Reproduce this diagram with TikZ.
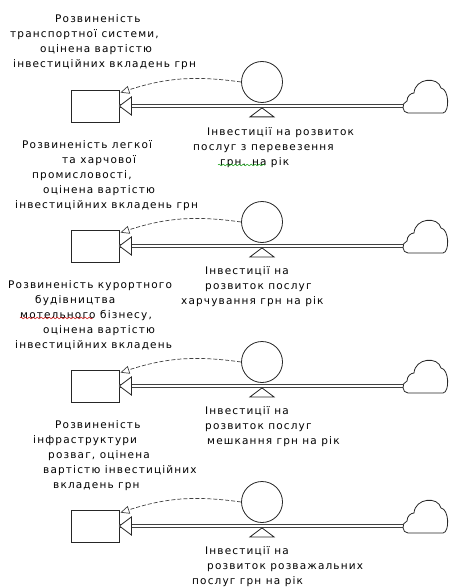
\documentclass[tikz,border=0pt]{standalone}
\usepackage{fontspec}
\setmainfont{DejaVu Sans}[LetterSpace=11]
\usetikzlibrary{arrows.meta,calc,positioning,decorations.pathmorphing}
\def\cloudat(#1){\draw[cloudline, shift={(#1)}] (5,7) .. controls (-1,7) and (-2,-3) .. (4,-5) .. controls (4,-10) and (8,-13) .. (11,-13) .. controls (12,-28) and (35,-30) .. (38,-18) .. controls (46,-17) and (47,6) .. (40,7) -- cycle;}

\tikzset{
  stock/.style={draw=black!85, fill=white, line width=0.8pt, minimum width=48pt, minimum height=32pt, inner sep=0pt},
  rate/.style={circle, draw=black!85, fill=white, line width=0.8pt, minimum size=41pt, inner sep=0pt},
  pipe/.style={draw=black!75, double=white, double distance=2.6pt, line width=0.9pt},
  pipetip/.style={draw=black!85, fill=white, line width=0.8pt},
  valvebase/.style={draw=black!85, fill=white, line width=0.8pt},
  cloudline/.style={draw=black!85, fill=white, line width=0.8pt},
  link/.style={draw=black!75, dash pattern=on 4pt off 2pt, line width=0.7pt, -{Triangle[open, length=9pt, width=8pt]}},
  lbl/.style={anchor=north west, align=left, inner sep=0pt, font=\fontsize{10.5}{15.2}\selectfont},
  squiggle/.style={line width=0.5pt, decorate, decoration={snake, amplitude=0.8pt, segment length=4pt}}
}

\begin{document}
\begin{tikzpicture}[x=1pt, y=-1pt]
			%%%%% START %%%%%
			\useasboundingbox (0,0) rectangle (448,588);

			% transport
			\node[lbl] (t1) at (10,14) {\hspace*{45pt}Розвиненість\\транспортної системи,\\\hspace*{30pt}оцінена вартістю\\\hspace*{3pt}інвестиційних вкладень грн};
			\node[stock] (s1) at (95,106) {};
			\node[rate] (v1) at (262,82) {};
			\coordinate (c1) at (403,106);
			\draw[pipe] (c1) -- (s1.east);
			\draw[pipetip] (s1.east) -- ++(12,-9) -- ++(0,18) -- cycle;
			\draw[valvebase] ($(v1.south)+(0,5)$) -- ++(-12,9) -- ++(24,0) -- cycle;
			\cloudat(c1)
			\draw[link] (v1.west) to[out=172, in=18] ($(s1.north east)+(1,3)$);
			\node[lbl] (r1) at (193,127) {\hspace*{14pt}Інвестиції на розвиток\\послуг з перевезення\\\hspace*{27pt}грн. на рік};
			\draw[squiggle, green!60!black] (218,165) -- (265,165);

			% food industry
			\node[lbl] (t2) at (15,140) {\hspace*{7pt}Розвиненість легкої\\\hspace*{47pt}та харчової\\\hspace*{17pt}промисловості,\\\hspace*{28pt}оцінена вартістю\\інвестиційних вкладень грн};
			\node[stock] (s2) at (95,246) {};
			\node[rate] (v2) at (262,222) {};
			\coordinate (c2) at (403,246);
			\draw[pipe] (c2) -- (s2.east);
			\draw[pipetip] (s2.east) -- ++(12,-9) -- ++(0,18) -- cycle;
			\draw[valvebase] ($(v2.south)+(0,5)$) -- ++(-12,9) -- ++(24,0) -- cycle;
			\cloudat(c2)
			\draw[link] (v2.west) to[out=172, in=18] ($(s2.north east)+(1,3)$);
			\node[lbl] (r2) at (181,266) {\hspace*{24pt}Інвестиції на\\\hspace*{24pt}розвиток послуг\\харчування грн на рік};

			% resort building
			\node[lbl] (t3) at (8,280) {Розвиненість курортного\\\hspace*{27pt}будівництва\\\hspace*{12pt}мотельного бізнесу,\\\hspace*{35pt}оцінена вартістю\\\hspace*{7pt}інвестиційних вкладень};
			\draw[squiggle, red!80!black] (20,318) -- (93,318);
			\node[stock] (s3) at (95,386) {};
			\node[rate] (v3) at (262,362) {};
			\coordinate (c3) at (403,386);
			\draw[pipe] (c3) -- (s3.east);
			\draw[pipetip] (s3.east) -- ++(12,-9) -- ++(0,18) -- cycle;
			\draw[valvebase] ($(v3.south)+(0,5)$) -- ++(-12,9) -- ++(24,0) -- cycle;
			\cloudat(c3)
			\draw[link] (v3.west) to[out=172, in=18] ($(s3.north east)+(1,3)$);
			\node[lbl] (r3) at (205,406) {Інвестиції на\\розвиток послуг\\\hspace*{2pt}мешкання грн на рік};

			% entertainment
			\node[lbl] (t4) at (33,420) {\hspace*{22pt}Розвиненість\\інфраструктури\\\hspace*{15pt}розваг, оцінена\\\hspace*{10pt}вартістю інвестиційних\\\hspace*{20pt}вкладень грн};
			\node[stock] (s4) at (95,526) {};
			\node[rate] (v4) at (262,502) {};
			\coordinate (c4) at (403,526);
			\draw[pipe] (c4) -- (s4.east);
			\draw[pipetip] (s4.east) -- ++(12,-9) -- ++(0,18) -- cycle;
			\draw[valvebase] ($(v4.south)+(0,5)$) -- ++(-12,9) -- ++(24,0) -- cycle;
			\cloudat(c4)
			\draw[link] (v4.west) to[out=172, in=18] ($(s4.north east)+(1,3)$);
			\node[lbl] (r4) at (192,546) {\hspace*{13pt}Інвестиції на\\\hspace*{15pt}розвиток розважальних\\послуг грн на рік};
			%%%%% END %%%%%
\end{tikzpicture}
\end{document}
